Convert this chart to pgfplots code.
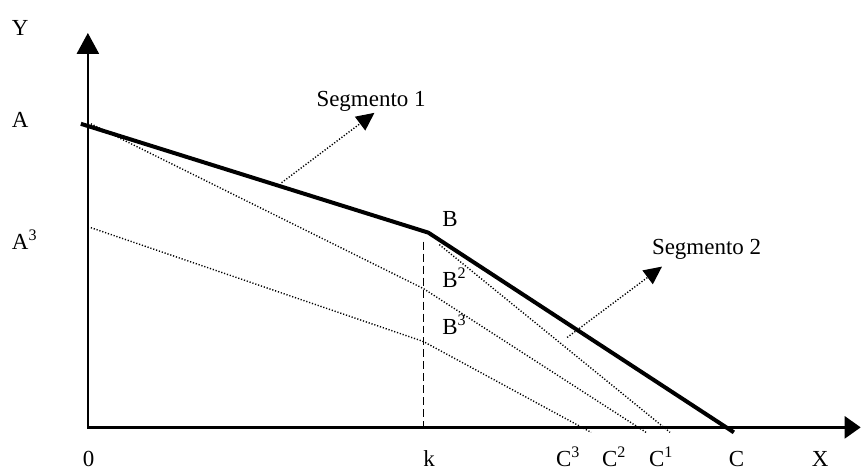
\documentclass[border=0pt]{standalone}
\usepackage{fontspec}
\setmainfont{Liberation Serif}
\usepackage{pgfplots}
\pgfplotsset{compat=1.18}
\usetikzlibrary{arrows.meta}
\tikzset{lab/.style={font=\fontsize{11.5}{13}\selectfont, inner sep=0pt, outer sep=0pt, anchor=base west},
  dots/.style={black, line width=0.7pt, dash pattern=on 0.6pt off 0.9pt}}
\begin{document}
\begin{tikzpicture}
\begin{axis}[scale only axis, width=431pt, height=234.5pt,
  xmin=0, xmax=862, ymin=0, ymax=469, hide axis, clip=false]
\path (axis cs:0,0) rectangle (axis cs:862,469);
% axes
\addplot[black, line width=1.3pt, -{Triangle[length=10.5pt,width=11pt]}] coordinates {(88,41) (88,436)};
\addplot[black, line width=1.3pt, -{Triangle[length=8pt,width=11pt]}] coordinates {(87.4,41) (862,41)};
% dotted lines
\addplot[dots] coordinates {(440,224) (671,36)};
\addplot[dots] coordinates {(91,345) (424,180) (647,36)};
\addplot[dots] coordinates {(91,241) (424,127) (592,36)};
% dashed vertical at k
\addplot[black, line width=0.8pt, dash pattern=on 4pt off 2pt] coordinates {(424,227) (424,41)};
% budget line
\addplot[black, line width=2pt] coordinates {(81,345) (429,236) (735,36)};
% segment arrows
\addplot[dots, -{Triangle[length=9pt,width=8.5pt]}] coordinates {(282,286) (375,356)};
\addplot[dots, -{Triangle[length=9pt,width=8.5pt]}] coordinates {(568,131) (663,202)};
% labels
\node[lab] at (axis cs:12,433) {Y};
\node[lab] at (axis cs:12,341) {A};
\node[lab] at (axis cs:12,219) {A\textsuperscript{3}};
\node[lab] at (axis cs:443,242) {B};
\node[lab] at (axis cs:443,181) {B\textsuperscript{2}};
\node[lab] at (axis cs:443,134) {B\textsuperscript{3}};
\node[lab] at (axis cs:317,362) {Segmento 1};
\node[lab] at (axis cs:653,214) {Segmento 2};
\node[lab] at (axis cs:83,2) {0};
\node[lab] at (axis cs:424,2) {k};
\node[lab] at (axis cs:557,2) {C\textsuperscript{3}};
\node[lab] at (axis cs:603,2) {C\textsuperscript{2}};
\node[lab] at (axis cs:650,2) {C\textsuperscript{1}};
\node[lab] at (axis cs:730,2) {C};
\node[lab] at (axis cs:813,2) {X};
\end{axis}
\end{tikzpicture}
\end{document}
